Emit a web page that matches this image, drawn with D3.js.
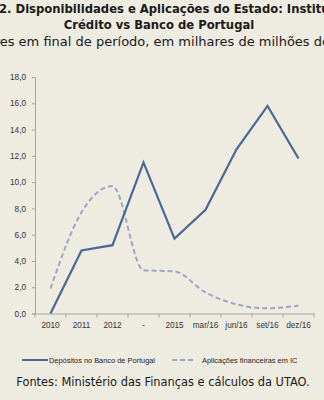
<!DOCTYPE html>
<html><head><meta charset="utf-8">
<script src="https://cdn.jsdelivr.net/npm/d3@7"></script>
<style>html,body{margin:0;padding:0;background:#eeebe1;overflow:hidden}</style>
</head><body>
<svg id="c" width="324" height="400"></svg>
<script>
const categories = ["2010","2011","2012","-","2015","mar/16","jun/16","set/16","dez/16"];
const depositos = [0.0, 4.8, 5.2, 11.5, 5.7, 7.9, 12.5, 15.8, 11.8];
const aplicacoes = [1.9, 7.7, 9.7, 3.3, 3.2, 1.6, 0.7, 0.4, 0.6];
const yTicks = [0,2,4,6,8,10,12,14,16,18];
const seriesNames = ["Depósitos no Banco de Portugal", "Aplicações financeiras em IC"];
const titleLines = ["2. Disponibilidades e Aplicações do Estado: Instituições de", "Crédito vs Banco de Portugal"];
const subtitle = "Valores em final de período, em milhares de milhões de euros";
const source = "Fontes: Ministério das Finanças e cálculos da UTAO.";

const svg = d3.select("#c");
svg.append("rect").attr("width",324).attr("height",400).attr("fill","#eeebe1");

const titleFont = "'DejaVu Sans', sans-serif";
const smallFont = "'Liberation Sans', Arial, sans-serif";
svg.append("text").attr("x",-1).attr("y",13).attr("font-family",titleFont).attr("font-weight","bold")
  .attr("font-size",11.6).attr("fill","#1a1a1a").text(titleLines[0]);
svg.append("text").attr("x",159).attr("y",29).attr("text-anchor","middle").attr("font-family",titleFont).attr("font-weight","bold")
  .attr("font-size",11.6).attr("fill","#1a1a1a").text(titleLines[1]);
const sub = svg.append("text").attr("y",46).attr("font-family",titleFont)
  .attr("font-size",13).attr("fill","#1a1a1a").text(subtitle);
const tmp = svg.append("text").attr("font-family",titleFont).attr("font-size",13).text("Valor");
const wShift = tmp.node().getComputedTextLength();
tmp.remove();
sub.attr("x", -wShift);

const x = d3.scaleBand().domain(categories).range([35,314]).padding(0);
const y = d3.scaleLinear().domain([0,18]).range([313.5,77]);

const axisColor = "#a6a6a6";
const ya = svg.append("g").attr("transform","translate(35,0)")
  .call(d3.axisLeft(y).tickValues(yTicks).tickSize(3).tickPadding(6).tickFormat(d=>d3.format(".1f")(d).replace(".",",")));
ya.select(".domain").attr("stroke",axisColor);
ya.selectAll(".tick line").attr("stroke",axisColor);
ya.selectAll("text").attr("font-family",smallFont).attr("font-size",8.2).attr("fill","#333");

const xa = svg.append("g").attr("transform","translate(0,313.5)")
  .call(d3.axisBottom(x).tickSize(0).tickPadding(9));
xa.select(".domain").attr("stroke",axisColor);
xa.selectAll("text").attr("font-family",smallFont).attr("font-size",8.2).attr("fill","#333");
const bounds = categories.map(c=>x(c)).concat([x.range()[1]]);
xa.selectAll(".bt").data(bounds).enter().append("line")
  .attr("x1",d=>d).attr("x2",d=>d).attr("y1",0).attr("y2",4).attr("stroke",axisColor);

const cx = c => x(c) + x.bandwidth()/2;
const line1 = d3.line().x((d,i)=>cx(categories[i])).y(d=>y(d));
const line2 = d3.line().x((d,i)=>cx(categories[i])).y(d=>y(d)).curve(d3.curveMonotoneX);

svg.append("path").datum(aplicacoes).attr("d",line2).attr("fill","none")
  .attr("stroke","#9ba7c8").attr("stroke-width",2).attr("stroke-dasharray","5,3");
svg.append("path").datum(depositos).attr("d",line1).attr("fill","none")
  .attr("stroke","#4a6897").attr("stroke-width",2.2).attr("stroke-linejoin","miter");

const lg = svg.append("g");
lg.append("line").attr("x1",22).attr("x2",48).attr("y1",360).attr("y2",360).attr("stroke","#4a6897").attr("stroke-width",2);
lg.append("text").attr("x",49).attr("y",362.5).attr("font-family",smallFont).attr("font-size",7.4).attr("fill","#222").text(seriesNames[0]);
lg.append("line").attr("x1",172).attr("x2",195).attr("y1",360).attr("y2",360).attr("stroke","#9ba7c8").attr("stroke-width",2).attr("stroke-dasharray","5,3");
lg.append("text").attr("x",202).attr("y",362.5).attr("font-family",smallFont).attr("font-size",7.4).attr("fill","#222").text(seriesNames[1]);

svg.append("text").attr("x",163).attr("y",386).attr("text-anchor","middle").attr("font-family",titleFont)
  .attr("font-size",11.4).attr("fill","#1a1a1a").text(source);
</script>
</body></html>
